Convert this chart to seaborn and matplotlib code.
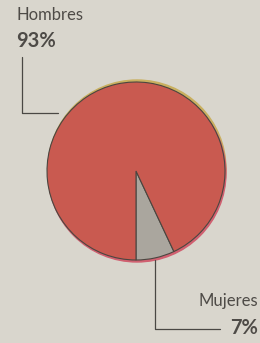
import matplotlib
matplotlib.use("Agg")
import matplotlib.pyplot as plt
import seaborn as sns

labels = ["Mujeres", "Hombres"]
values = [7, 93]
pct_labels = ["7%", "93%"]

sns.set_theme(style="white")
plt.rcParams['font.family'] = ['Lato', 'DejaVu Sans']

W, H = 260, 343
bg = "#d9d6cd"
fig = plt.figure(figsize=(W / 100, H / 100), dpi=100, facecolor=bg)
ax = fig.add_axes([0, 0, 1, 1])
ax.set_facecolor(bg)

cx, cy, r = 136, 172, 89
colors = ["#aaa69e", "#c95a50"]
# print misregistration tints
ax.add_patch(plt.Circle((cx + 1, cy + 2), r, color="#c9b060", zorder=0))
ax.add_patch(plt.Circle((cx + 1, cy - 2), r, color="#d06070", zorder=0))
ax.pie(values, colors=colors, startangle=-90, counterclock=True,
       center=(cx, cy), radius=r,
       wedgeprops=dict(edgecolor="#4a4640", linewidth=0.8), frame=True)
ax.set_xlim(0, W)
ax.set_ylim(0, H)
ax.set_aspect("auto")
ax.axis("off")

lc = "#4a4844"
ax.plot([22, 22, 58], [H - 57, H - 113, H - 113], color=lc, lw=0.9)
ax.plot([155, 155, 220], [H - 260, H - 329, H - 329], color=lc, lw=0.9)

tc = "#4e4b47"
ax.text(16, H - 15, labels[1], fontsize=12, color=tc, va="center", ha="left")
ax.text(16, H - 41, pct_labels[1], fontsize=14.5, fontweight="bold", color=tc, va="center", ha="left")
ax.text(258, H - 301, labels[0], fontsize=12, color=tc, va="center", ha="right")
ax.text(258, H - 328, pct_labels[0], fontsize=14.5, fontweight="bold", color=tc, va="center", ha="right")

fig.savefig("out.png", dpi=100, facecolor=bg)
